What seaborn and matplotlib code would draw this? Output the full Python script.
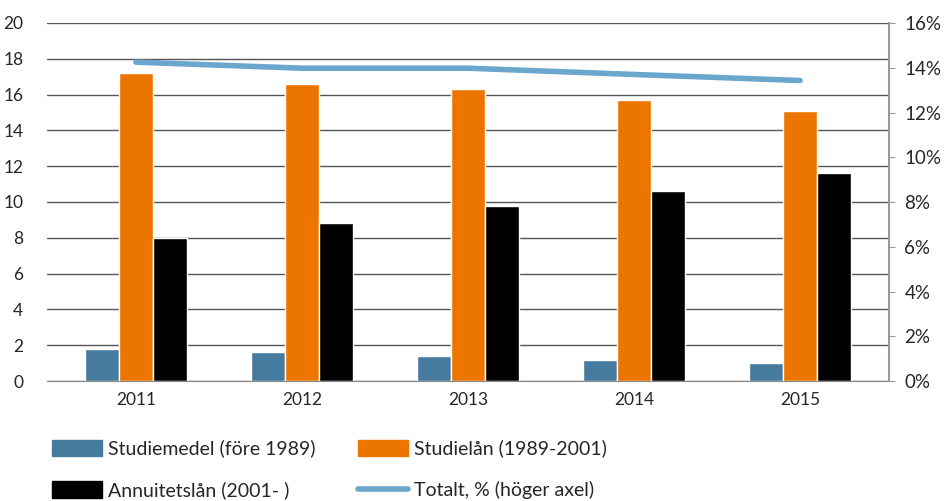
import pandas as pd
import matplotlib.pyplot as plt
import seaborn as sns
from matplotlib.patches import Patch
from matplotlib.lines import Line2D
from matplotlib.ticker import FuncFormatter

# Data
years = ['2011', '2012', '2013', '2014', '2015']
studiemedel = [1.8, 1.6, 1.4, 1.2, 1.0]
studielan = [17.2, 16.6, 16.3, 15.7, 15.1]
annuitetslan = [8.0, 8.8, 9.8, 10.6, 11.6]
totalt_pct = [14.25, 13.98, 13.98, 13.7, 13.43]

series_names = ['Studiemedel (före 1989)', 'Studielån (1989-2001)', 'Annuitetslån (2001- )']
line_name = 'Totalt, % (höger axel)'
bar_colors = ['#467BA0', '#EC7500', '#000000']
line_color = '#6BA7CC'

df = pd.DataFrame({
    'Year': years * 3,
    'Value': studiemedel + studielan + annuitetslan,
    'Series': [series_names[0]] * 5 + [series_names[1]] * 5 + [series_names[2]] * 5,
})
line_df = pd.DataFrame({'Year': years, 'Pct': totalt_pct})

sns.set_style('white')
plt.rcParams['font.family'] = ['Lato', 'DejaVu Sans']

fig = plt.figure(figsize=(9.49, 5.01), dpi=100)
ax = fig.add_axes([47 / 949, 1 - 381 / 501, (889 - 47) / 949, (381 - 23) / 501])

sns.barplot(data=df, x='Year', y='Value', hue='Series', palette=bar_colors,
            width=0.61, saturation=1, ax=ax, legend=False)
ax.set_ylim(0, 20)
ax.set_yticks(range(0, 21, 2))
ax.yaxis.grid(True, color='#555555', linewidth=1)
ax.set_axisbelow(True)
ax.set_xlabel('')
ax.set_ylabel('')
ax.tick_params(axis='both', labelsize=12.5, length=0, pad=8)
ax.tick_params(axis='y', pad=17)
for side in ['left', 'top', 'right']:
    ax.spines[side].set_visible(False)
ax.spines['bottom'].set_color('#888888')

ax2 = ax.twinx()
sns.lineplot(data=line_df, x='Year', y='Pct', color=line_color, linewidth=4,
             solid_capstyle='round', ax=ax2, legend=False)
ax2.set_ylim(0, 16)
ax2.set_yticks(range(0, 17, 2))
ax2.yaxis.set_major_formatter(FuncFormatter(lambda v, p: f'{int(v)}%'))
ax2.set_ylabel('')
ax2.tick_params(axis='y', labelsize=13.5, length=4, color='#999999', direction='out', pad=7)
for side in ['left', 'top', 'bottom']:
    ax2.spines[side].set_visible(False)
ax2.spines['right'].set_color('#999999')
ax2.spines['right'].set_linewidth(1.5)

handles = [
    Patch(color=bar_colors[0], label=series_names[0]),
    Patch(color=bar_colors[2], label=series_names[2]),
    Patch(color=bar_colors[1], label=series_names[1]),
    Line2D([0], [0], color=line_color, linewidth=4, solid_capstyle='round', label=line_name),
]
fig.legend(handles=handles, loc='lower left', bbox_to_anchor=(50 / 949, 0.0), ncol=2,
           frameon=False, fontsize=14, handlelength=2.57, handleheight=0.95,
           labelspacing=1.2, columnspacing=2.2, handletextpad=0.3, borderpad=0.1,
           borderaxespad=0.0)

fig.savefig('out.png', dpi=100)
